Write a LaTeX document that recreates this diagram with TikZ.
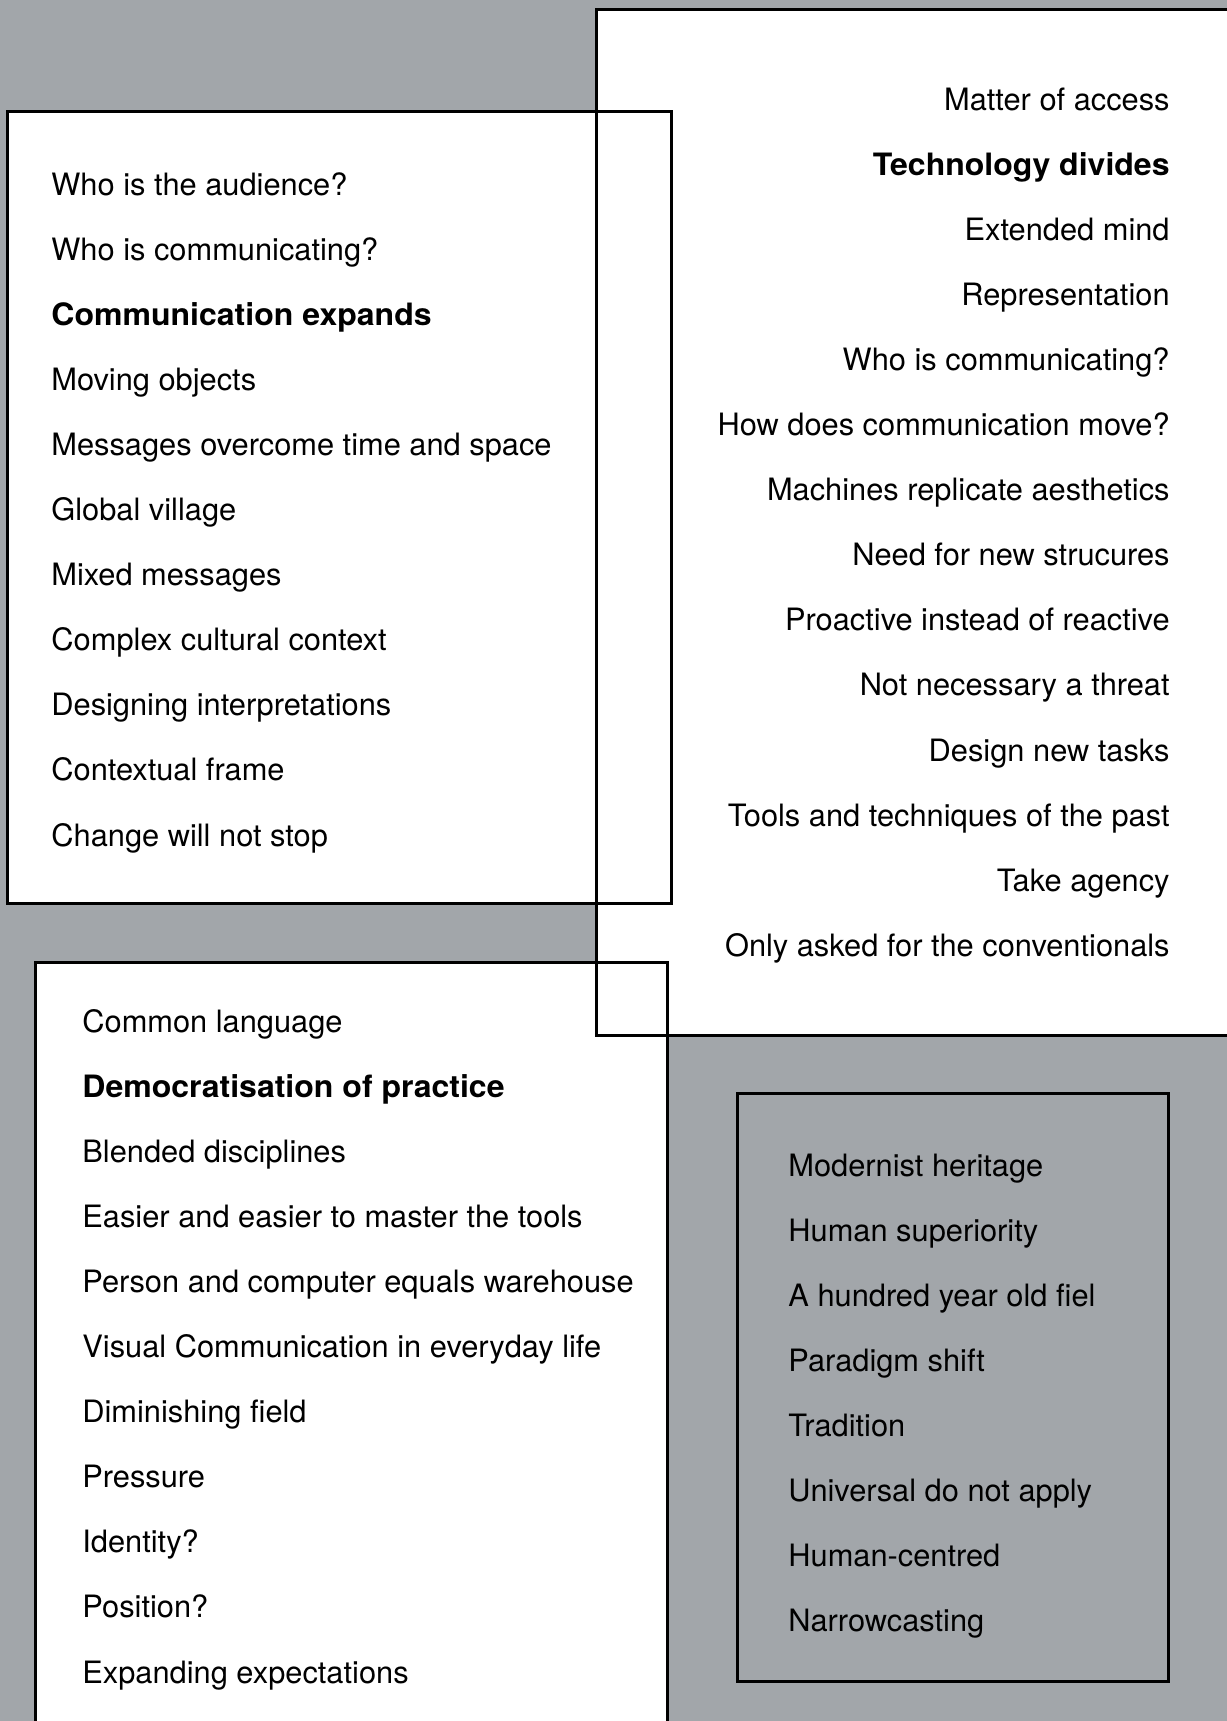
\documentclass[tikz,border=0pt]{standalone}
\usepackage{fontspec}
\setmainfont{TeX Gyre Heros}
\usepackage{tikz}
\usetikzlibrary{positioning}
\definecolor{sfondo}{RGB}{162,166,170}
\newcommand{\grassetto}[1]{{\bfseries\addfontfeature{FakeStretch=1.04}#1}}

\begin{document}
\begin{tikzpicture}[x = 0.5pt, y = -0.5pt,
        bordo/.style = {draw = black, line width = 1.5pt},
        voce/.style = {inner sep = 0pt, font = \fontsize{15.4}{18}\selectfont}]
        % Parametri
        \pgfmathsetmacro{\passo}{65.1}
        % Sfondo
        \useasboundingbox (0,0) rectangle (1227,1721);
        \clip (0,0) rectangle (1227,1721);
        \fill[sfondo] (0,0) rectangle (1227,1721);
        % Angoli dei riquadri
        \coordinate (DxA) at (596,9);
        \coordinate (DxB) at (1240,1035);
        \coordinate (SxA) at (7,111);
        \coordinate (SxB) at (671,903);
        \coordinate (BsA) at (35,962);
        \coordinate (BsB) at (667,1740);
        \coordinate (BdA) at (737,1093);
        \coordinate (BdB) at (1168,1681);
        % Riquadri bianchi, poi i bordi sopra
        \fill[white] (DxA) rectangle (DxB);
        \fill[white] (SxA) rectangle (SxB);
        \fill[white] (BsA) rectangle (BsB);
        \draw[bordo] (DxA) rectangle (DxB);
        \draw[bordo] (SxA) rectangle (SxB);
        \draw[bordo] (BsA) rectangle (BsB);
        \draw[bordo] (BdA) rectangle (BdB);
        % Voci in alto a sinistra
        \foreach \testo [count = \i] in {Who is the audience?, Who is communicating?,
            \grassetto{Communication expands}, Moving objects, Messages overcome time and space,
            Global village, Mixed messages, Complex cultural context,
            Designing interpretations, Contextual frame, Change will not stop}
            \node[voce, anchor = base west] (Sx\i) at (51, {195 + \passo*(\i-1)}) {\testo};
        % Voci in alto a destra
        \foreach \testo [count = \i] in {Matter of access, \grassetto{Technology divides},
            Extended mind, Representation, Who is communicating?,
            How does communication move?, Machines replicate aesthetics,
            Need for new strucures, Proactive instead of reactive, Not necessary a threat,
            Design new tasks, Tools and techniques of the past, Take agency,
            Only asked for the conventionals}
            \node[voce, anchor = base east] (Dx\i) at (1170, {110 + \passo*(\i-1)}) {\testo};
        % Voci in basso a sinistra
        \foreach \testo [count = \i] in {Common language, \grassetto{Democratisation of practice},
            Blended disciplines, Easier and easier to master the tools,
            Person and computer equals warehouse, Visual Communication in everyday life,
            Diminishing field, Pressure, Identity?, Position?, Expanding expectations}
            \node[voce, anchor = base west] (Bs\i) at (82, {1032 + \passo*(\i-1)}) {\testo};
        % Voci in basso a destra
        \foreach \testo [count = \i] in {Modernist heritage, Human superiority,
            A hundred year old fiel, Paradigm shift, Tradition, Universal do not apply,
            Human-centred, Narrowcasting}
            \node[voce, anchor = base west] (Bd\i) at (788, {1176 + \passo*(\i-1)}) {\testo};
    \end{tikzpicture}
\end{document}
